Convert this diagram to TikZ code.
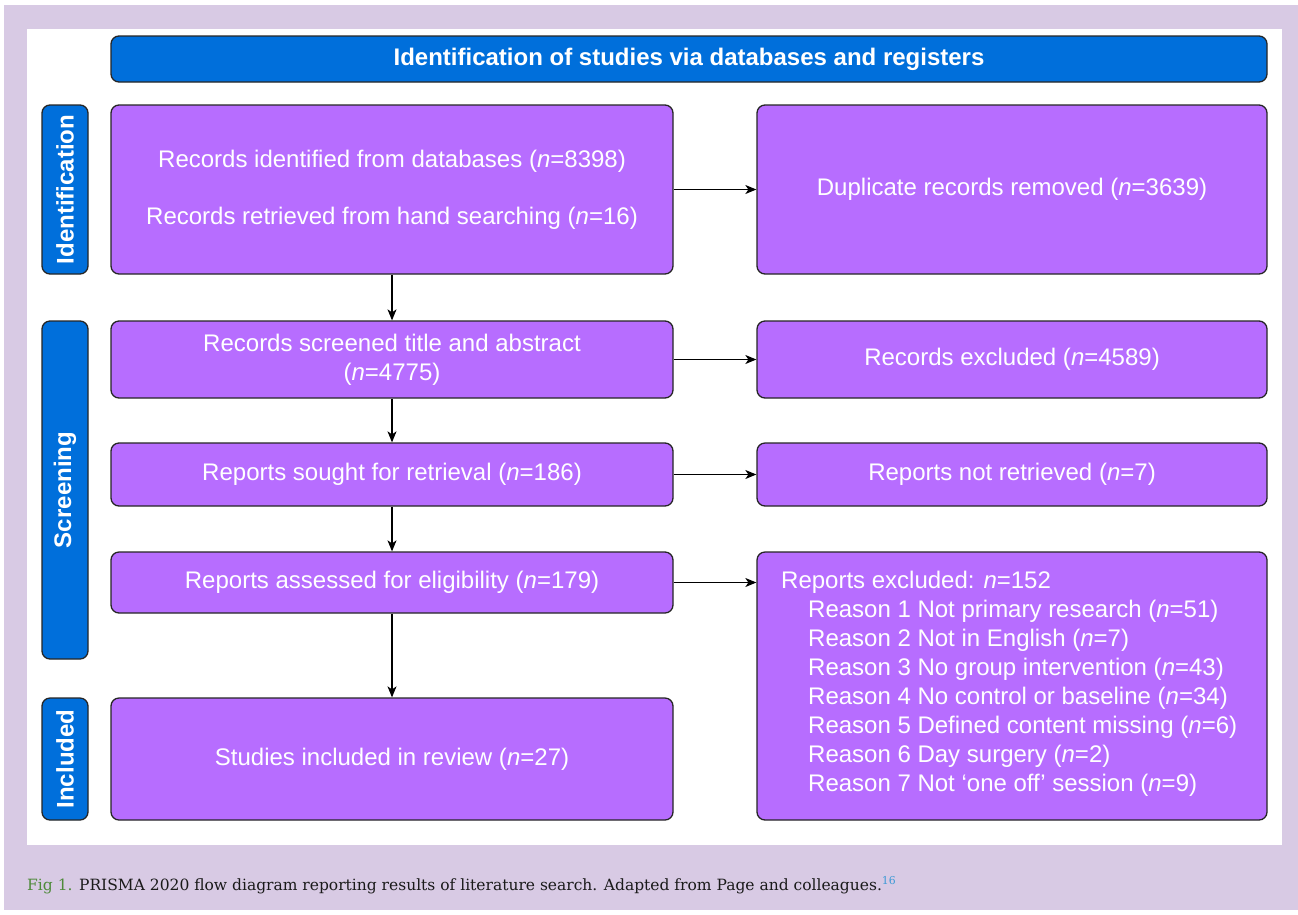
\documentclass[tikz,border=0pt]{standalone}
\usepackage{fontspec}
\setmainfont{Liberation Sans}
\newfontfamily\capfont{DejaVu Serif}
\usetikzlibrary{arrows.meta}
\definecolor{lav}{HTML}{D8CAE4}
\definecolor{pblue}{HTML}{006FDB}
\definecolor{ppurple}{HTML}{B76DFF}
\definecolor{figgreen}{HTML}{4E8A3A}
\definecolor{supblue}{HTML}{3E9AD6}
\definecolor{captext}{HTML}{1A1A1A}
\begin{document}
\begin{tikzpicture}[x=1pt,y=-1pt,
  pbox/.style={draw=black!85, line width=1.3pt, fill=ppurple, rounded corners=8pt,
    text=white, font=\fontsize{24}{29}\selectfont, align=center, inner sep=0pt,
    minimum width=#1},
  pbox/.default=562pt,
  bbox/.style={draw=black!85, line width=1.3pt, fill=pblue, rounded corners=8pt,
    text=white, font=\bfseries\fontsize{24}{29}\selectfont, align=center, inner sep=0pt},
  side/.style={bbox, rotate=90, minimum height=46pt},
  arr/.style={-{Stealth[length=11pt,width=9pt,inset=3pt]}, line width=1.1pt, black}
]
\useasboundingbox (0,0) rectangle (1298,914);
\fill[white] (0,0) rectangle (1298,914);
\fill[lav] (4,5) rectangle (1298,910);
\fill[white] (27,29) rectangle (1282,845);

% header
\node[bbox, minimum width=1156pt, minimum height=46pt] (title) at (689,59)
  {Identification of studies via databases and registers};

% side bars
\node[side, minimum width=169pt] (sid) at (65,189.5) {Identification};
\node[side, minimum width=338pt] (ssc) at (65,490) {Screening};
\node[side, minimum width=122pt] (sin) at (65,759) {Included};

% left column
\node[pbox, minimum height=169pt] (b1) at (392,189.5)
  {Records identified from databases (\textit{n}=8398)\\[28pt]Records retrieved from hand searching (\textit{n}=16)};
\node[pbox, minimum height=77pt] (scr) at (392,359.5)
  {Records screened title and abstract\\(\textit{n}=4775)};
\node[pbox, minimum height=63pt] (sought) at (392,474.5)
  {Reports sought for retrieval (\textit{n}=186)};
\node[pbox, minimum height=61pt] (assess) at (392,582.5)
  {Reports assessed for eligibility (\textit{n}=179)};
\node[pbox, minimum height=122pt] (incl) at (392,759)
  {Studies included in review (\textit{n}=27)};

% right column
\node[pbox=510pt, minimum height=169pt] (dup) at (1012,189.5)
  {Duplicate records removed (\textit{n}=3639)};
\node[pbox=510pt, minimum height=77pt] (excl) at (1012,359.5)
  {Records excluded (\textit{n}=4589)};
\node[pbox=510pt, minimum height=63pt] (notret) at (1012,474.5)
  {Reports not retrieved (\textit{n}=7)};
\node[pbox=510pt, minimum height=268pt] (rexcl) at (1012,686) {};
\node[anchor=west, inner sep=0pt, text=white, align=left,
  font=\fontsize{24}{29}\selectfont] (rtxt) at (781,684)
  {Reports excluded: \textit{n}=152\\
   \hspace*{27pt}Reason 1 Not primary research (\textit{n}=51)\\
   \hspace*{27pt}Reason 2 Not in English (\textit{n}=7)\\
   \hspace*{27pt}Reason 3 No group intervention (\textit{n}=43)\\
   \hspace*{27pt}Reason 4 No control or baseline (\textit{n}=34)\\
   \hspace*{27pt}Reason 5 Defined content missing (\textit{n}=6)\\
   \hspace*{27pt}Reason 6 Day surgery (\textit{n}=2)\\
   \hspace*{27pt}Reason 7 Not ‘one off’ session (\textit{n}=9)};

% arrows
\draw[arr] (b1) -- (scr);
\draw[arr] (scr) -- (sought);
\draw[arr] (sought) -- (assess);
\draw[arr] (assess) -- (incl);
\draw[arr] (b1) -- (dup);
\draw[arr] (scr) -- (excl);
\draw[arr] (sought) -- (notret);
\draw[arr] (assess.east) -- (assess.east -| rexcl.west);

% caption
\node[anchor=base west, inner sep=0pt, text=captext,
  font=\capfont\fontsize{15.5}{20}\selectfont] (cap) at (27,890)
  {\textcolor{figgreen}{Fig 1.} PRISMA 2020 flow diagram reporting results of literature search. Adapted from Page and colleagues.\textsuperscript{\textcolor{supblue}{16}}};
\end{tikzpicture}
\end{document}
